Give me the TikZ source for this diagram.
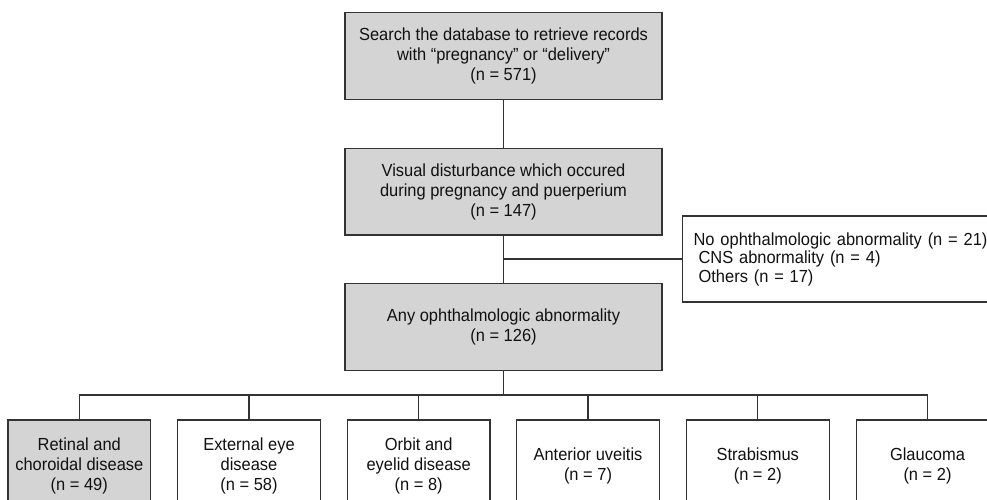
\documentclass[tikz,border=0pt]{standalone}
\usepackage{fontspec}
\setmainfont{Liberation Sans}[FakeStretch=0.94]
\definecolor{linec}{HTML}{333333}
\definecolor{boxfill}{HTML}{D4D4D4}
\definecolor{txt}{HTML}{111111}
\begin{document}
\begin{tikzpicture}[x=1pt,y=-1pt,
  every node/.style={text=txt},
  box/.style={draw=linec, line width=1.2pt, align=center, inner sep=0pt,
    font=\fontsize{17.5}{20}\selectfont},
  mainbox/.style={box, fill=boxfill, minimum width=317pt, minimum height=86.5pt},
  leaf/.style={box, minimum width=142.6pt, minimum height=92pt},
  conn/.style={draw=linec, line width=1.2pt}]
\useasboundingbox (0,0) rectangle (987,499);
\clip (0,0) rectangle (987,499);
\node[mainbox] (top) at (503.5,56) {Search the database to retrieve records\\with “pregnancy” or “delivery”\\(n = 571)};
\node[mainbox] (vis) at (503.5,191.7) {Visual disturbance which occured\\during pregnancy and puerperium\\(n = 147)};
\node[mainbox] (any) at (503.5,327) {Any ophthalmologic abnormality\\(n = 126)};
\node[box, anchor=west, minimum width=320pt, minimum height=86pt, align=left,
  font=\fontsize{17.5}{18.5}\selectfont, text width=305pt, inner xsep=11pt] (side) at (682,259)
  {No ophthalmologic abnormality (n = 21)\\\hspace*{5pt}CNS abnormality (n = 4)\\\hspace*{5pt}Others (n = 17)};
\node[leaf, fill=boxfill] (b1) at (79.3,466) {Retinal and\\choroidal disease\\(n = 49)};
\node[leaf] (b2) at (249,466) {External eye\\disease\\(n = 58)};
\node[leaf] (b3) at (418.7,466) {Orbit and\\eyelid disease\\(n = 8)};
\node[leaf] (b4) at (588,466) {Anterior uveitis\\(n = 7)};
\node[leaf] (b5) at (757.8,466) {Strabismus\\(n = 2)};
\node[leaf] (b6) at (927.5,466) {Glaucoma\\(n = 2)};
\coordinate (bar) at (503.5,395);
\coordinate (junc) at (vis.south |- side.west);
\draw[conn] (top) -- (vis);
\draw[conn] (vis) -- (any);
\draw[conn] (junc) -- (side.west);
\draw[conn] (any.south) -- (bar);
\draw[conn] (b1.north) -- (b1.north |- bar) -- (b6.north |- bar) -- (b6.north);
\foreach \b in {b2,b3,b4,b5}{\draw[conn] (\b.north) -- (\b.north |- bar);}
\end{tikzpicture}
\end{document}
